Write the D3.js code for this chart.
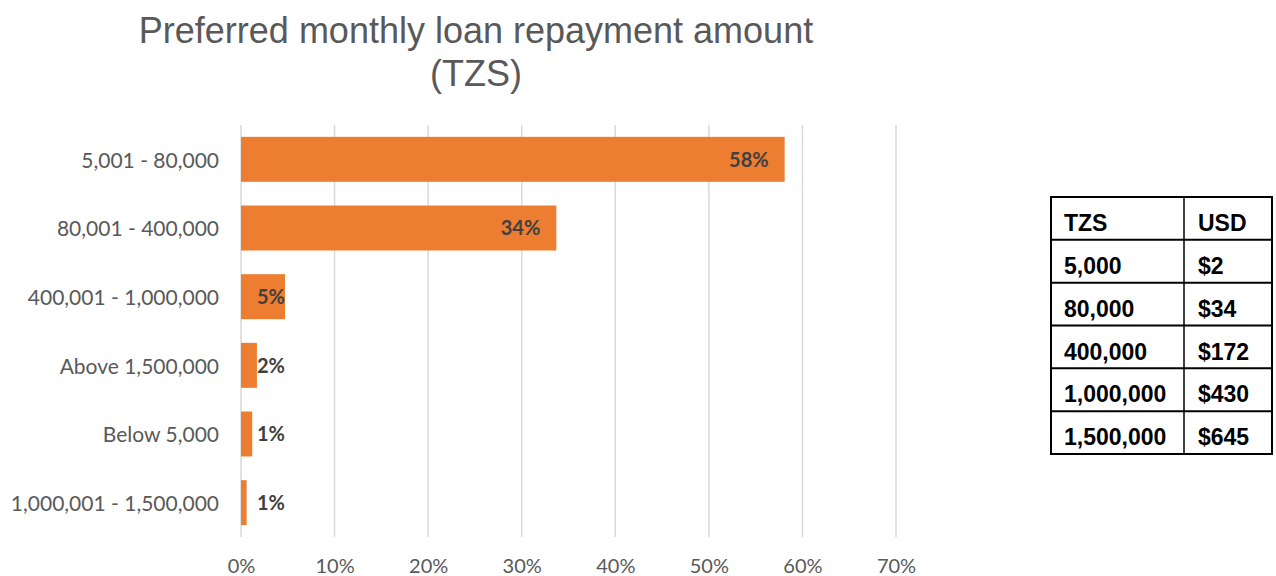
<!DOCTYPE html>
<html>
<head>
<meta charset="utf-8">
<script src="https://cdn.jsdelivr.net/npm/d3@7"></script>
<style>
  html, body { margin: 0; padding: 0; background: #fff; }
  svg { display: block; }
</style>
</head>
<body>
<svg id="chart" width="1276" height="576"></svg>
<script>
// Survey answers: preferred monthly repayment band (share of respondents)
const categories = [
  "5,001 - 80,000",
  "80,001 - 400,000",
  "400,001 - 1,000,000",
  "Above 1,500,000",
  "Below 5,000",
  "1,000,001 - 1,500,000"
];
const shares = [0.581, 0.337, 0.047, 0.017, 0.012, 0.006];
const axisTicks = [0, 0.1, 0.2, 0.3, 0.4, 0.5, 0.6, 0.7];

// Currency conversion reference table
const tableHeader = ["TZS", "USD"];
const tzsAmounts = ["5,000", "80,000", "400,000", "1,000,000", "1,500,000"];
const usdAmounts = ["$2", "$34", "$172", "$430", "$645"];

const svg = d3.select("#chart");
const pct = d3.format(".0%");

const plot = { left: 241, right: 896, top: 125, bottom: 537 };

const x = d3.scaleLinear().domain([0, 0.7]).range([plot.left, plot.right]);
const y = d3.scaleBand()
  .domain(categories)
  .range([plot.top, plot.bottom])
  .paddingInner(0.345)
  .paddingOuter(0.1725);

// Title
const title = svg.append("text")
  .attr("x", 476)
  .attr("text-anchor", "middle")
  .attr("font-family", "'Liberation Sans', Arial, sans-serif")
  .attr("font-size", 36)
  .attr("fill", "#595959");
title.append("tspan").attr("x", 476).attr("y", 43).text("Preferred monthly loan repayment amount");
title.append("tspan").attr("x", 476).attr("y", 86).text("(TZS)");

// Vertical gridlines
svg.append("g")
  .selectAll("line")
  .data(axisTicks)
  .join("line")
  .attr("x1", d => x(d))
  .attr("x2", d => x(d))
  .attr("y1", plot.top)
  .attr("y2", plot.bottom)
  .attr("stroke", "#d9d9d9")
  .attr("stroke-width", 1.5);

// X axis tick labels
const xAxis = svg.append("g")
  .attr("transform", `translate(0,${plot.bottom + 22})`)
  .call(d3.axisBottom(x).tickValues(axisTicks).tickFormat(pct).tickSize(0).tickPadding(0));
xAxis.select(".domain").remove();
xAxis.selectAll("text")
  .attr("font-family", "Lato, sans-serif")
  .attr("font-size", 20)
  .attr("fill", "#595959");

// Y axis category labels
const yAxis = svg.append("g")
  .attr("transform", `translate(${plot.left - 22},0)`)
  .call(d3.axisLeft(y).tickSize(0).tickPadding(0));
yAxis.select(".domain").remove();
yAxis.selectAll("text")
  .attr("dy", "0.4em")
  .attr("font-family", "Lato, sans-serif")
  .attr("font-size", 21)
  .attr("fill", "#595959");

// Bars
svg.append("g")
  .selectAll("rect")
  .data(categories)
  .join("rect")
  .attr("x", x(0))
  .attr("y", d => y(d))
  .attr("width", (d, i) => x(shares[i]) - x(0))
  .attr("height", y.bandwidth())
  .attr("fill", "#ed7d31");

// Value labels
svg.append("g")
  .selectAll("text")
  .data(categories)
  .join("text")
  .attr("x", (d, i) => Math.max(x(shares[i]) - 16, x(0) + 44))
  .attr("y", d => y(d) + y.bandwidth() / 2)
  .attr("dy", "0.36em")
  .attr("text-anchor", "end")
  .attr("font-family", "Lato, sans-serif")
  .attr("font-weight", "bold")
  .attr("font-size", 20)
  .attr("fill", "#404040")
  .text((d, i) => pct(shares[i]));

// Conversion table
const table = { left: 1051, divider: 1184, right: 1272, top: 197, bottom: 454 };
const rows = [tableHeader].concat(tzsAmounts.map((t, i) => [t, usdAmounts[i]]));
const rowY = d3.scaleBand().domain(d3.range(rows.length)).range([table.top, table.bottom]);

const tg = svg.append("g");
tg.append("rect")
  .attr("x", table.left).attr("y", table.top)
  .attr("width", table.right - table.left).attr("height", table.bottom - table.top)
  .attr("fill", "none").attr("stroke", "#000").attr("stroke-width", 2);
tg.append("line")
  .attr("x1", table.divider).attr("x2", table.divider)
  .attr("y1", table.top).attr("y2", table.bottom)
  .attr("stroke", "#000").attr("stroke-width", 1.5);
tg.selectAll("line.row")
  .data(d3.range(1, rows.length))
  .join("line")
  .attr("class", "row")
  .attr("x1", table.left).attr("x2", table.right)
  .attr("y1", i => rowY(i)).attr("y2", i => rowY(i))
  .attr("stroke", "#000").attr("stroke-width", 2);

const cells = tg.selectAll("g.cellrow")
  .data(rows)
  .join("g")
  .attr("class", "cellrow")
  .attr("transform", (d, i) => `translate(0,${rowY(i) + 34})`);
cells.selectAll("text")
  .data(d => d)
  .join("text")
  .attr("x", (d, j) => j === 0 ? table.left + 13 : table.divider + 14)
  .attr("font-family", "'Liberation Sans', Arial, sans-serif")
  .attr("font-weight", "bold")
  .attr("font-size", 23)
  .attr("fill", "#000")
  .text(d => d);
</script>
</body>
</html>
